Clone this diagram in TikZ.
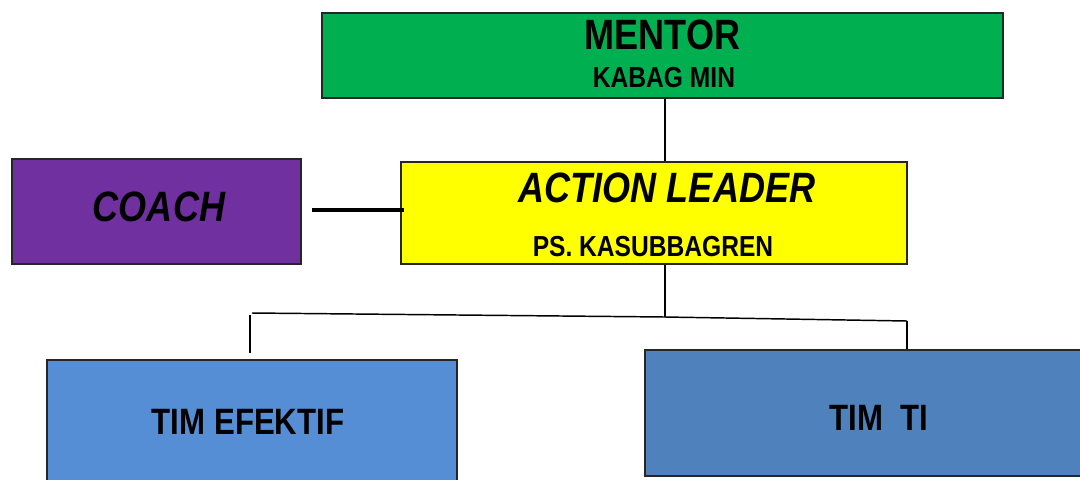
\documentclass[tikz,border=0pt]{standalone}
\usepackage{fontspec}
\setmainfont{Liberation Sans}[FakeStretch=0.85]
\usepackage{tikz}

\definecolor{mentorgreen}{HTML}{00B050}
\definecolor{coachpurple}{HTML}{7030A0}
\definecolor{leaderyellow}{HTML}{FFFF00}
\definecolor{efektifblue}{HTML}{558ED5}
\definecolor{tiblue}{HTML}{4F81BD}

\begin{document}
\begin{tikzpicture}[x=0.75pt, y=-0.75pt,
    box/.style={draw=black!85, line width=1.5pt, inner sep=0pt},
    title/.style={font=\fontsize{31.8}{36}\selectfont\bfseries},
    subtitle/.style={font=\fontsize{21.7}{26}\selectfont\bfseries},
    teamtext/.style={font=\fontsize{27.5}{32}\selectfont\bfseries},
    link/.style={draw=black, line width=1.1pt}]

    \useasboundingbox (0, 0) rectangle (1080, 479);

    % Mentor
    \node[box, fill=mentorgreen, minimum width=510.75pt, minimum height=63.75pt] (mentor) at (662.5, 55.5) {};
    \node[title] (mentortitle) at (662.5, 35) {MENTOR};
    \node[subtitle] (mentorsub) at (664, 78) {KABAG MIN};

    % Coach
    \node[box, fill=coachpurple, minimum width=216.75pt, minimum height=78.75pt] (coach) at (156.5, 211.5) {};
    \node[title, font=\fontsize{31.8}{36}\selectfont\bfseries\itshape] (coachtitle) at (159, 207) {COACH};

    % Action leader
    \node[box, fill=leaderyellow, minimum width=379.5pt, minimum height=76.5pt] (leader) at (654, 213) {};
    \node[title, font=\fontsize{31.8}{36}\selectfont\bfseries\itshape] (leadertitle) at (667, 188) {ACTION LEADER};
    \node[subtitle] (leadersub) at (653, 247) {PS. KASUBBAGREN};

    % Teams
    \node[box, fill=efektifblue, minimum width=307.5pt, minimum height=97.5pt] (efektif) at (252, 425) {};
    \node[teamtext] (efektiftitle) at (248, 422) {TIM EFEKTIF};
    \node[box, fill=tiblue, minimum width=330pt, minimum height=94.5pt] (timti) at (865, 413) {};
    \node[teamtext] (timtititle) at (879, 418) {TIM\ \ TI};

    % Connectors
    \coordinate (split) at (665, 317);
    \coordinate (lefttop) at (252, 313);
    \coordinate (righttop) at (907, 321);

    \draw[link] (mentor.south -| split) -- (leader.north -| split);
    \draw[line width=3pt] ([xshift=7.5pt, yshift=1pt]coach.east) -- ([xshift=3pt, yshift=1pt]coach.east -| leader.west);
    \draw[link] (leader.south -| split) -- (split);
    \draw[link] (lefttop) -- (split) -- (righttop);
    \draw[link] (250, 315) -- (250, 353);
    \draw[link] (righttop) -- (timti.north -| righttop);

\end{tikzpicture}
\end{document}
